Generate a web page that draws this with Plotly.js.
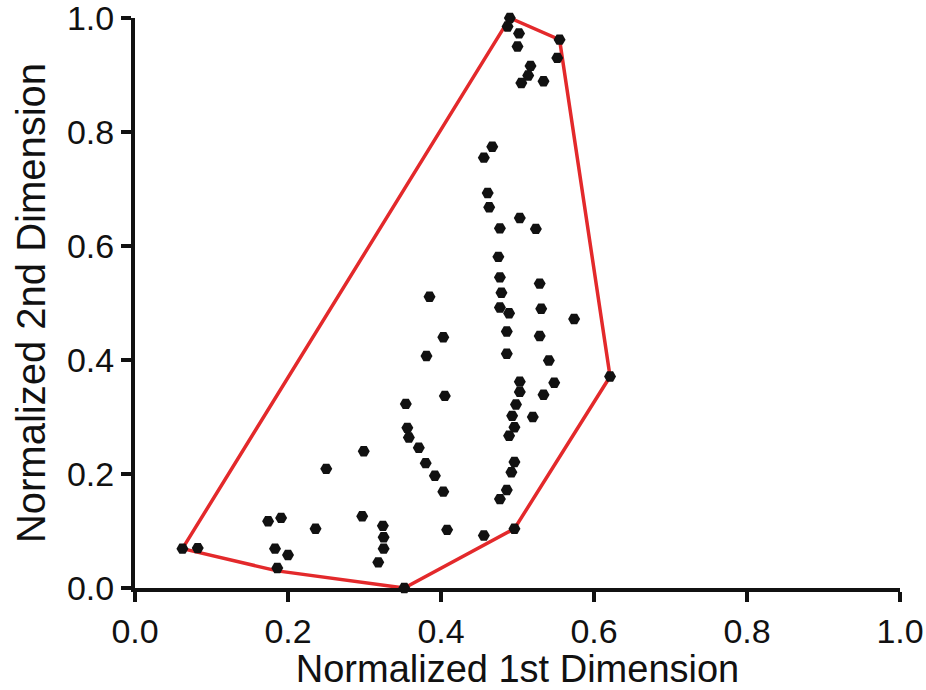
<!DOCTYPE html>
<html>
<head>
<meta charset="utf-8">
<script src="https://cdn.plot.ly/plotly-3.0.1.min.js"></script>
<style>
  html, body { margin: 0; padding: 0; background: #fff; }
  #chart { width: 926px; height: 690px; }
</style>
</head>
<body>
<div id="chart"></div>
<script>
// Scatter points (normalized dimensions)
const dim1 = [
  0.490, 0.487, 0.502, 0.500, 0.555, 0.552, 0.517, 0.514, 0.505, 0.534,
  0.467, 0.456, 0.461, 0.463, 0.503, 0.477, 0.524, 0.475, 0.477, 0.479,
  0.529, 0.385, 0.477, 0.489, 0.531, 0.574, 0.486, 0.529, 0.403, 0.381,
  0.486, 0.541, 0.621, 0.503, 0.548, 0.503, 0.534, 0.405, 0.354, 0.498,
  0.493, 0.520, 0.496, 0.489, 0.356, 0.358, 0.299, 0.371, 0.380, 0.250,
  0.392, 0.496, 0.492, 0.403, 0.486, 0.477, 0.297, 0.191, 0.174, 0.236,
  0.324, 0.408, 0.496, 0.456, 0.325, 0.325, 0.318, 0.062, 0.082, 0.183,
  0.200, 0.186, 0.352
];
const dim2 = [
  1.000, 0.985, 0.973, 0.950, 0.962, 0.930, 0.916, 0.899, 0.886, 0.889,
  0.774, 0.755, 0.693, 0.668, 0.649, 0.631, 0.630, 0.581, 0.545, 0.518,
  0.534, 0.511, 0.492, 0.482, 0.490, 0.472, 0.450, 0.442, 0.440, 0.407,
  0.411, 0.399, 0.371, 0.362, 0.360, 0.344, 0.339, 0.337, 0.323, 0.322,
  0.302, 0.300, 0.282, 0.267, 0.281, 0.264, 0.240, 0.246, 0.219, 0.209,
  0.197, 0.221, 0.203, 0.169, 0.172, 0.156, 0.126, 0.123, 0.117, 0.104,
  0.109, 0.102, 0.104, 0.092, 0.089, 0.069, 0.045, 0.069, 0.070, 0.069,
  0.058, 0.035, 0.000
];
// Convex hull vertices (closed polygon)
const hullX = [0.062, 0.186, 0.352, 0.496, 0.621, 0.555, 0.490, 0.062];
const hullY = [0.069, 0.030, 0.000, 0.104, 0.371, 0.962, 1.000, 0.069];

const xTicks = [0, 0.2, 0.4, 0.6, 0.8, 1.0];
const xTickText = ['0.0', '0.2', '0.4', '0.6', '0.8', '1.0'];
const yTicks = [0, 0.2, 0.4, 0.6, 0.8, 1.0];
const yTickText = ['0.0', '0.2', '0.4', '0.6', '0.8', '1.0'];

const FONT = 'Liberation Sans, Arial, Helvetica, sans-serif';

const traces = [
  {
    type: 'scatter', mode: 'lines', x: hullX, y: hullY,
    line: { color: '#e3292b', width: 3.5 },
    hoverinfo: 'skip', cliponaxis: false, showlegend: false
  },
  {
    type: 'scatter', mode: 'markers', x: dim1, y: dim2,
    marker: { symbol: 'hexagon2', size: 12, color: '#111111', line: { width: 0 } },
    cliponaxis: false, showlegend: false
  }
];

const axisCommon = {
  range: [0, 1],
  showgrid: false,
  zeroline: false,
  showline: true,
  linecolor: '#111111',
  linewidth: 4,
  ticks: 'outside',
  ticklen: 10,
  tickwidth: 4,
  tickcolor: '#111111',
  tickmode: 'array',
  ticklabeloverflow: 'allow',
  tickfont: { family: FONT, size: 34, color: '#111111' },
  fixedrange: true
};

const layout = {
  width: 926, height: 690,
  margin: { l: 135, r: 26, t: 18, b: 102 },
  paper_bgcolor: '#ffffff',
  plot_bgcolor: '#ffffff',
  showlegend: false,
  xaxis: Object.assign({}, axisCommon, {
    tickvals: xTicks, ticktext: xTickText,
    title: { text: 'Normalized 1st Dimension', font: { family: FONT, size: 38, color: '#111111' }, standoff: 2 }
  }),
  yaxis: Object.assign({}, axisCommon, {
    tickvals: yTicks, ticktext: yTickText,
    title: { text: 'Normalized 2nd Dimension', font: { family: FONT, size: 40, color: '#111111' }, standoff: 10 }
  })
};

Plotly.newPlot('chart', traces, layout, { displayModeBar: false, staticPlot: true });
</script>
</body>
</html>
